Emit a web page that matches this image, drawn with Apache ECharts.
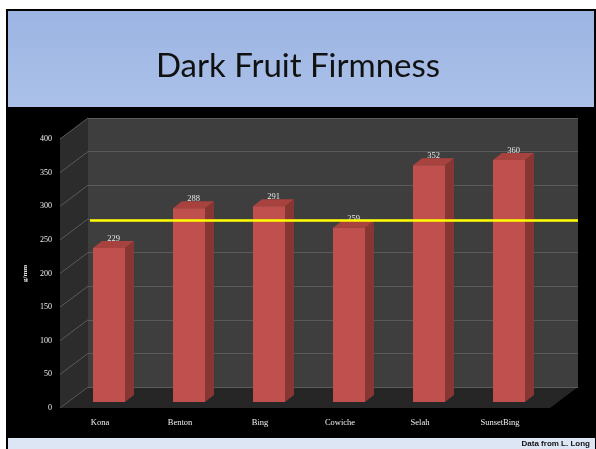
<!DOCTYPE html>
<html>
<head>
<meta charset="utf-8">
<script src="https://cdn.jsdelivr.net/npm/echarts@6/dist/echarts.min.js"></script>
<style>
html,body{margin:0;padding:0;background:#fff;}
#c{width:596px;height:449px;}
</style>
</head>
<body>
<div id="c"></div>
<script>
const categories = ['Kona', 'Benton', 'Bing', 'Cowiche', 'Selah', 'SunsetBing'];
const firmness = [229, 288, 291, 259, 352, 360];
const threshold = 270;
const yTicks = [0, 50, 100, 150, 200, 250, 300, 350, 400];
const titleText = 'Dark Fruit Firmness';
const yAxisName = 'g/mm';
const footnote = 'Data from L. Long';

const chart = echarts.init(document.getElementById('c'), null, {renderer: 'canvas'});
const DX = 9, DY = -7;
const serif = '"Liberation Serif", "DejaVu Serif", serif';

const option = {
  animation: false,
  backgroundColor: '#ffffff',
  title: {
    text: titleText,
    left: 'center',
    top: 45,
    textStyle: {fontFamily: 'Lato, "Open Sans", sans-serif', fontSize: 33, fontWeight: 'normal', color: '#111'}
  },
  graphic: [
    {type: 'rect', z: -5, shape: {x: 6, y: 9, width: 590, height: 440}, style: {fill: '#000'}},
    {type: 'rect', z: -4, shape: {x: 8, y: 11, width: 586, height: 96},
      style: {fill: new echarts.graphic.LinearGradient(0, 0, 0, 1, [{offset: 0, color: '#9bb4e2'}, {offset: 1, color: '#abc1e9'}])}},
    {type: 'rect', z: -4, shape: {x: 8, y: 438, width: 587, height: 11}, style: {fill: '#dde6f4'}},
    {type: 'polygon', z: -1, shape: {points: [[60, 139], [88, 118], [88, 387], [60, 408]]}, style: {fill: '#2c2c2c'}},
    {type: 'polygon', z: -1, shape: {points: [[60, 408], [550, 408], [578, 387], [88, 387]]}, style: {fill: '#262626'}},
    {type: 'text', z: 10, style: {text: footnote, x: 590, y: 444, align: 'right', verticalAlign: 'middle',
      font: 'bold 8px "Liberation Sans", Arial, sans-serif', fill: '#111'}}
  ],
  grid: [
    {left: 88, right: 18, top: 118, bottom: 62, show: true, backgroundColor: '#3e3e3e', borderWidth: 0, z: -2},
    {left: 60, right: 56, top: 139, bottom: 41, show: false},
    {left: 69, right: 47, top: 133, bottom: 47, show: false}
  ],
  xAxis: [
    {gridIndex: 0, type: 'value', min: 0, max: 1, show: false},
    {gridIndex: 1, type: 'category', data: categories,
      axisLine: {show: false}, axisTick: {show: false}, splitLine: {show: false},
      axisLabel: {margin: 10, color: '#f0f0f0', fontFamily: serif, fontSize: 8.5}},
    {gridIndex: 2, type: 'category', data: categories, show: false}
  ],
  yAxis: [
    {gridIndex: 0, type: 'value', min: 0, max: 400, interval: 50,
      axisLine: {show: false}, axisTick: {show: false}, axisLabel: {show: false},
      splitLine: {show: true, lineStyle: {color: '#5a5a5a', width: 1}}},
    {gridIndex: 1, type: 'value', min: 0, max: 400, interval: 50,
      name: yAxisName, nameLocation: 'middle', nameGap: 27, nameRotate: 90,
      nameTextStyle: {color: '#e8e8e8', fontSize: 7, fontWeight: 'bold', fontFamily: serif},
      axisLine: {show: false}, axisTick: {show: false}, splitLine: {show: false},
      axisLabel: {margin: 8, color: '#f0f0f0', fontFamily: serif, fontSize: 8}},
    {gridIndex: 2, type: 'value', min: 0, max: 400, show: false}
  ],
  series: [
    {
      type: 'custom', xAxisIndex: 0, yAxisIndex: 0, z: 1,
      data: yTicks.map(v => [0, v]),
      renderItem: function (params, api) {
        const p = api.coord([0, api.value(1)]);
        return {type: 'line', shape: {x1: p[0], y1: p[1], x2: p[0] - 28, y2: p[1] + 21},
          style: {stroke: '#5a5a5a', lineWidth: 1}};
      }
    },
    {
      type: 'custom', xAxisIndex: 2, yAxisIndex: 2, z: 3,
      data: firmness.map((v, i) => [i, v]),
      renderItem: function (params, api) {
        const v = api.value(1);
        const top = api.coord([api.value(0), v]);
        const base = api.coord([api.value(0), 0]);
        const w = api.size([1, 0])[0] * 0.4;
        const l = top[0] - w / 2, r = top[0] + w / 2;
        return {type: 'group', children: [
          {type: 'polygon', shape: {points: [[r, top[1]], [r + DX, top[1] + DY], [r + DX, base[1] + DY], [r, base[1]]]},
            style: {fill: '#873634'}},
          {type: 'polygon', shape: {points: [[l, top[1]], [l + DX, top[1] + DY], [r + DX, top[1] + DY], [r, top[1]]]},
            style: {fill: '#a8423f'}},
          {type: 'rect', shape: {x: l, y: top[1], width: w, height: base[1] - top[1]},
            style: {fill: '#c0504d'}},
          {type: 'text', style: {text: String(v), x: top[0] + DX / 2, y: top[1] + DY + 2,
            align: 'center', verticalAlign: 'bottom', font: '8.5px ' + serif, fill: '#e6e6e6'}}
        ]};
      }
    },
    {
      type: 'custom', xAxisIndex: 2, yAxisIndex: 2, z: 5,
      data: [[0, threshold]],
      renderItem: function (params, api) {
        const p = api.coord([0, api.value(1)]);
        return {type: 'line', shape: {x1: 90, y1: p[1], x2: 578, y2: p[1]},
          style: {stroke: '#ffff00', lineWidth: 2.5}};
      }
    }
  ]
};
chart.setOption(option);
</script>
</body>
</html>
